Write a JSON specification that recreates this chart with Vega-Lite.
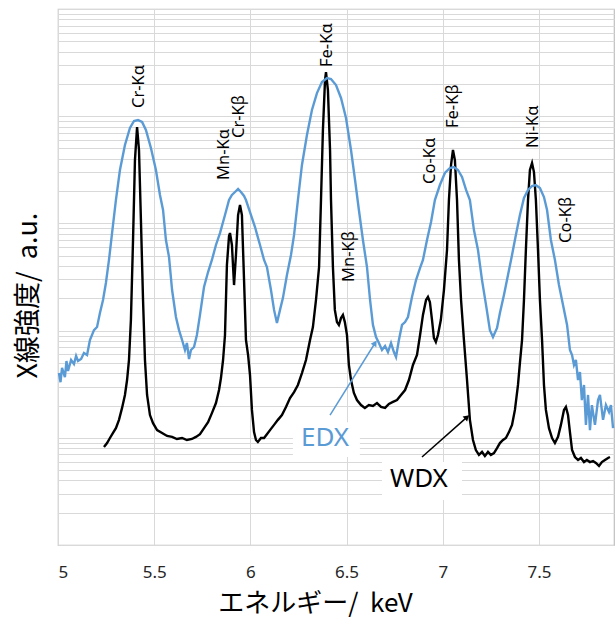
{
  "$schema": "https://vega.github.io/schema/vega-lite/v6.json",
  "width": 556,
  "height": 536,
  "autosize": {"type": "none"},
  "padding": {"left": 58, "top": 9, "right": 1, "bottom": 76},
  "background": "white",
  "config": {"view": {"stroke": "#bfbfbf", "strokeWidth": 1.2}, "font": "Noto Sans"},
  "datasets": {
    "edx": [
      {"keV":5.005,"intensity":40.2},{"keV":5.013,"intensity":33},{"keV":5.021,"intensity":44.8},{"keV":5.036,"intensity":36.9},{"keV":5.044,"intensity":52},{"keV":5.052,"intensity":42},{"keV":5.068,"intensity":53.2},{"keV":5.083,"intensity":48.8},{"keV":5.094,"intensity":58},{"keV":5.104,"intensity":52},{"keV":5.120,"intensity":54.3},{"keV":5.135,"intensity":61.8},{"keV":5.151,"intensity":59.2},{"keV":5.166,"intensity":81.7},{"keV":5.187,"intensity":101},{"keV":5.203,"intensity":108},{"keV":5.218,"intensity":146},{"keV":5.234,"intensity":193},{"keV":5.249,"intensity":278},{"keV":5.265,"intensity":456},{"keV":5.281,"intensity":813},{"keV":5.301,"intensity":1652},{"keV":5.322,"intensity":3148},{"keV":5.348,"intensity":5383},{"keV":5.374,"intensity":7762},{"keV":5.395,"intensity":9016},{"keV":5.416,"intensity":9204},{"keV":5.437,"intensity":8827},{"keV":5.457,"intensity":7430},{"keV":5.483,"intensity":5047},{"keV":5.509,"intensity":3148},{"keV":5.530,"intensity":1841},{"keV":5.546,"intensity":1334},{"keV":5.561,"intensity":700},{"keV":5.577,"intensity":486},{"keV":5.593,"intensity":239},{"keV":5.613,"intensity":134},{"keV":5.629,"intensity":101},{"keV":5.645,"intensity":81.7},{"keV":5.660,"intensity":65.9},{"keV":5.670,"intensity":76.6},{"keV":5.681,"intensity":54.3},{"keV":5.691,"intensity":65.9},{"keV":5.707,"intensity":70.3},{"keV":5.722,"intensity":91.0},{"keV":5.738,"intensity":140},{"keV":5.759,"intensity":255},{"keV":5.780,"intensity":352},{"keV":5.800,"intensity":456},{"keV":5.821,"intensity":629},{"keV":5.842,"intensity":813},{"keV":5.868,"intensity":1197},{"keV":5.889,"intensity":1652},{"keV":5.904,"intensity":1841},{"keV":5.920,"intensity":1963},{"keV":5.936,"intensity":2094},{"keV":5.951,"intensity":1963},{"keV":5.967,"intensity":1802},{"keV":5.977,"intensity":1652},{"keV":5.998,"intensity":1277},{"keV":6.024,"intensity":925},{"keV":6.050,"intensity":629},{"keV":6.071,"intensity":456},{"keV":6.086,"intensity":392},{"keV":6.107,"intensity":239},{"keV":6.123,"intensity":156},{"keV":6.138,"intensity":118},{"keV":6.154,"intensity":156},{"keV":6.169,"intensity":201},{"keV":6.190,"intensity":330},{"keV":6.211,"intensity":507},{"keV":6.227,"intensity":780},{"keV":6.247,"intensity":1652},{"keV":6.268,"intensity":3508},{"keV":6.294,"intensity":6683},{"keV":6.320,"intensity":11430},{"keV":6.346,"intensity":16440},{"keV":6.372,"intensity":20840},{"keV":6.398,"intensity":22700},{"keV":6.419,"intensity":22230},{"keV":6.445,"intensity":19540},{"keV":6.471,"intensity":14790},{"keV":6.497,"intensity":9616},{"keV":6.523,"intensity":4842},{"keV":6.544,"intensity":2541},{"keV":6.564,"intensity":1334},{"keV":6.585,"intensity":700},{"keV":6.606,"intensity":392},{"keV":6.622,"intensity":193},{"keV":6.637,"intensity":113},{"keV":6.653,"intensity":87.1},{"keV":6.668,"intensity":76.6},{"keV":6.684,"intensity":65.9},{"keV":6.700,"intensity":71.8},{"keV":6.715,"intensity":63.1},{"keV":6.731,"intensity":76.6},{"keV":6.746,"intensity":63.1},{"keV":6.757,"intensity":56.7},{"keV":6.772,"intensity":81.7},{"keV":6.788,"intensity":113},{"keV":6.804,"intensity":120},{"keV":6.819,"intensity":134},{"keV":6.840,"intensity":206},{"keV":6.861,"intensity":296},{"keV":6.882,"intensity":384},{"keV":6.897,"intensity":456},{"keV":6.918,"intensity":700},{"keV":6.939,"intensity":1030},{"keV":6.959,"intensity":1652},{"keV":6.985,"intensity":2281},{"keV":7.011,"intensity":2951},{"keV":7.037,"intensity":3289},{"keV":7.058,"intensity":3357},{"keV":7.079,"intensity":3148},{"keV":7.100,"intensity":2710},{"keV":7.121,"intensity":2051},{"keV":7.141,"intensity":1652},{"keV":7.162,"intensity":867},{"keV":7.183,"intensity":565},{"keV":7.204,"intensity":296},{"keV":7.225,"intensity":173},{"keV":7.245,"intensity":101},{"keV":7.261,"intensity":87.1},{"keV":7.282,"intensity":106},{"keV":7.297,"intensity":146},{"keV":7.318,"intensity":215},{"keV":7.339,"intensity":330},{"keV":7.360,"intensity":507},{"keV":7.380,"intensity":780},{"keV":7.401,"intensity":1197},{"keV":7.422,"intensity":1726},{"keV":7.443,"intensity":2051},{"keV":7.464,"intensity":2233},{"keV":7.484,"intensity":2281},{"keV":7.505,"intensity":2138},{"keV":7.526,"intensity":1762},{"keV":7.542,"intensity":1334},{"keV":7.562,"intensity":700},{"keV":7.583,"intensity":456},{"keV":7.604,"intensity":266},{"keV":7.625,"intensity":173},{"keV":7.646,"intensity":113},{"keV":7.661,"intensity":65.9},{"keV":7.672,"intensity":59.2},{"keV":7.682,"intensity":47.8},{"keV":7.692,"intensity":53.2},{"keV":7.703,"intensity":34.6},{"keV":7.713,"intensity":41.1},{"keV":7.723,"intensity":22.5},{"keV":7.734,"intensity":31.1},{"keV":7.744,"intensity":13.2},{"keV":7.755,"intensity":25.1},{"keV":7.765,"intensity":11.8},{"keV":7.775,"intensity":20.2},{"keV":7.791,"intensity":13.2},{"keV":7.807,"intensity":22.5},{"keV":7.817,"intensity":25.1},{"keV":7.833,"intensity":14.7},{"keV":7.848,"intensity":20.2},{"keV":7.864,"intensity":17.4},{"keV":7.874,"intensity":20.2},{"keV":7.885,"intensity":12.3}
    ],
    "wdx": [
      {"keV":5.239,"intensity":8.21},{"keV":5.255,"intensity":8.93},{"keV":5.270,"intensity":9.96},{"keV":5.286,"intensity":11.1},{"keV":5.301,"intensity":12.3},{"keV":5.317,"intensity":14.7},{"keV":5.333,"intensity":19.0},{"keV":5.348,"intensity":25.1},{"keV":5.359,"intensity":34.6},{"keV":5.369,"intensity":53.2},{"keV":5.379,"intensity":126},{"keV":5.390,"intensity":700},{"keV":5.400,"intensity":3899},{"keV":5.411,"intensity":7925},{"keV":5.421,"intensity":4842},{"keV":5.431,"intensity":1076},{"keV":5.442,"intensity":193},{"keV":5.452,"intensity":53.2},{"keV":5.463,"intensity":25.1},{"keV":5.478,"intensity":16.3},{"keV":5.494,"intensity":13.7},{"keV":5.515,"intensity":11.8},{"keV":5.541,"intensity":11.1},{"keV":5.567,"intensity":10.4},{"keV":5.593,"intensity":10.2},{"keV":5.618,"intensity":9.75},{"keV":5.645,"intensity":9.96},{"keV":5.670,"intensity":9.54},{"keV":5.696,"intensity":9.75},{"keV":5.717,"intensity":10.2},{"keV":5.738,"intensity":10.8},{"keV":5.759,"intensity":12.3},{"keV":5.780,"intensity":14.0},{"keV":5.800,"intensity":17.0},{"keV":5.821,"intensity":21.1},{"keV":5.837,"intensity":27.9},{"keV":5.847,"intensity":36.1},{"keV":5.858,"intensity":53.2},{"keV":5.868,"intensity":91.0},{"keV":5.878,"intensity":409},{"keV":5.889,"intensity":763},{"keV":5.894,"intensity":813},{"keV":5.904,"intensity":629},{"keV":5.915,"intensity":266},{"keV":5.925,"intensity":507},{"keV":5.936,"intensity":1197},{"keV":5.946,"intensity":1486},{"keV":5.956,"intensity":1197},{"keV":5.967,"intensity":296},{"keV":5.977,"intensity":81.7},{"keV":5.988,"intensity":59.2},{"keV":5.998,"intensity":38.5},{"keV":6.008,"intensity":18.2},{"keV":6.019,"intensity":11.3},{"keV":6.029,"intensity":9.54},{"keV":6.039,"intensity":9.14},{"keV":6.055,"intensity":9.96},{"keV":6.071,"intensity":9.96},{"keV":6.086,"intensity":10.8},{"keV":6.102,"intensity":11.8},{"keV":6.123,"intensity":13.2},{"keV":6.143,"intensity":14.7},{"keV":6.164,"intensity":16.3},{"keV":6.185,"intensity":19.4},{"keV":6.206,"intensity":23.5},{"keV":6.227,"intensity":26.7},{"keV":6.247,"intensity":31.1},{"keV":6.268,"intensity":40.2},{"keV":6.289,"intensity":53.2},{"keV":6.310,"intensity":81.7},{"keV":6.325,"intensity":108},{"keV":6.341,"intensity":193},{"keV":6.357,"intensity":392},{"keV":6.367,"intensity":1652},{"keV":6.377,"intensity":7430},{"keV":6.388,"intensity":21780},{"keV":6.393,"intensity":25820},{"keV":6.403,"intensity":17540},{"keV":6.414,"intensity":4842},{"keV":6.419,"intensity":1652},{"keV":6.429,"intensity":392},{"keV":6.439,"intensity":156},{"keV":6.450,"intensity":120},{"keV":6.460,"intensity":113},{"keV":6.471,"intensity":131},{"keV":6.481,"intensity":140},{"keV":6.491,"intensity":120},{"keV":6.502,"intensity":91.0},{"keV":6.512,"intensity":47.8},{"keV":6.523,"intensity":34.6},{"keV":6.538,"intensity":26.2},{"keV":6.554,"intensity":22.5},{"keV":6.575,"intensity":20.2},{"keV":6.595,"intensity":19.0},{"keV":6.616,"intensity":20.2},{"keV":6.637,"intensity":19.8},{"keV":6.658,"intensity":21.1},{"keV":6.679,"intensity":19.4},{"keV":6.700,"intensity":19.0},{"keV":6.720,"intensity":20.7},{"keV":6.741,"intensity":21.6},{"keV":6.762,"intensity":22.5},{"keV":6.783,"intensity":25.1},{"keV":6.804,"intensity":27.9},{"keV":6.824,"intensity":34.6},{"keV":6.845,"intensity":47.8},{"keV":6.866,"intensity":59.2},{"keV":6.882,"intensity":91.0},{"keV":6.897,"intensity":140},{"keV":6.913,"intensity":193},{"keV":6.923,"intensity":206},{"keV":6.933,"intensity":185},{"keV":6.944,"intensity":126},{"keV":6.954,"intensity":85.3},{"keV":6.964,"intensity":78.3},{"keV":6.975,"intensity":91.0},{"keV":6.990,"intensity":126},{"keV":7.006,"intensity":239},{"keV":7.022,"intensity":565},{"keV":7.032,"intensity":1652},{"keV":7.043,"intensity":3508},{"keV":7.053,"intensity":4842},{"keV":7.063,"intensity":3899},{"keV":7.074,"intensity":1652},{"keV":7.084,"intensity":456},{"keV":7.095,"intensity":193},{"keV":7.110,"intensity":81.7},{"keV":7.126,"intensity":34.6},{"keV":7.141,"intensity":14.7},{"keV":7.157,"intensity":9.54},{"keV":7.172,"intensity":7.69},{"keV":7.188,"intensity":6.92},{"keV":7.204,"intensity":7.38},{"keV":7.219,"intensity":6.76},{"keV":7.235,"intensity":7.38},{"keV":7.250,"intensity":6.92},{"keV":7.266,"intensity":7.21},{"keV":7.282,"intensity":8.03},{"keV":7.297,"intensity":8.93},{"keV":7.313,"intensity":9.54},{"keV":7.328,"intensity":9.96},{"keV":7.344,"intensity":11.3},{"keV":7.360,"intensity":13.2},{"keV":7.375,"intensity":18.2},{"keV":7.391,"intensity":31.1},{"keV":7.401,"intensity":49.9},{"keV":7.412,"intensity":81.7},{"keV":7.422,"intensity":193},{"keV":7.432,"intensity":565},{"keV":7.443,"intensity":1652},{"keV":7.453,"intensity":3148},{"keV":7.464,"intensity":3656},{"keV":7.474,"intensity":3013},{"keV":7.484,"intensity":1652},{"keV":7.495,"intensity":565},{"keV":7.505,"intensity":193},{"keV":7.516,"intensity":81.7},{"keV":7.526,"intensity":31.1},{"keV":7.536,"intensity":18.2},{"keV":7.552,"intensity":12.3},{"keV":7.568,"intensity":9.96},{"keV":7.583,"intensity":8.93},{"keV":7.599,"intensity":10.2},{"keV":7.614,"intensity":13.2},{"keV":7.630,"intensity":18.2},{"keV":7.640,"intensity":19.4},{"keV":7.651,"intensity":16.3},{"keV":7.661,"intensity":11.3},{"keV":7.672,"intensity":7.69},{"keV":7.687,"intensity":6.62},{"keV":7.703,"intensity":6.21},{"keV":7.718,"intensity":6.49},{"keV":7.734,"intensity":5.94},{"keV":7.749,"intensity":6.21},{"keV":7.765,"intensity":5.94},{"keV":7.781,"intensity":6.08},{"keV":7.796,"intensity":5.82},{"keV":7.812,"intensity":5.46},{"keV":7.827,"intensity":5.94},{"keV":7.843,"intensity":6.21},{"keV":7.859,"intensity":6.49},{"keV":7.869,"intensity":6.62}
    ],
    "peaks": [
      {"label":"Cr-Kα","keV":5.421,"intensity":11940},
      {"label":"Mn-Kα","keV":5.863,"intensity":2541},
      {"label":"Cr-Kβ","keV":5.941,"intensity":6266},
      {"label":"Fe-Kα","keV":6.398,"intensity":28770},
      {"label":"Mn-Kβ","keV":6.512,"intensity":284},
      {"label":"Co-Kα","keV":6.933,"intensity":2333},
      {"label":"Fe-Kβ","keV":7.053,"intensity":7762},
      {"label":"Ni-Kα","keV":7.469,"intensity":5047},
      {"label":"Co-Kβ","keV":7.640,"intensity":656}
    ],
    "boxes": [
      {"name":"EDX","keV":6.221,"keV2":6.569,"intensity":6.62,"intensity2":14.0},
      {"name":"WDX","keV":6.684,"keV2":7.100,"intensity":2.63,"intensity2":5.94}
    ],
    "arrows": [
      {"name":"EDX","keV":6.414,"intensity":16.3,"keV2":6.648,"intensity2":76.6},
      {"name":"WDX","keV":6.892,"intensity":6.62,"keV2":7.126,"intensity2":15.6}
    ],
    "series": [
      {"name":"EDX","keV":6.388,"intensity":9.96},
      {"name":"WDX","keV":6.876,"intensity":4.13}
    ]
  },
  "encoding": {
    "x": {
      "field": "keV", "type": "quantitative",
      "scale": {"domain": [5, 7.89], "nice": false, "zero": false},
      "axis": {
        "values": [5, 5.5, 6, 6.5, 7, 7.5], "format": "~g",
        "grid": true, "gridColor": "#d9d9d9", "domain": false, "ticks": false,
        "labelFontSize": 17, "labelColor": "#262626", "labelPadding": 19, "labelFont": "Noto Sans",
        "title": "エネルギー/\u00a0\u00a0keV", "titleFont": "Noto Sans CJK JP", "titleFontSize": 26,
        "titleFontWeight": "normal", "titleColor": "#000000",
        "titleX": 257, "titleY": 58, "titleAlign": "center", "titleBaseline": "middle"
      }
    },
    "y": {
      "field": "intensity", "type": "quantitative",
      "scale": {"type": "log", "domain": [1, 100000], "nice": false},
      "axis": {
        "values": [1,2,3,4,5,6,7,8,9,10,20,30,40,50,60,70,80,90,100,200,300,400,500,600,700,800,900,1000,2000,3000,4000,5000,6000,7000,8000,9000,10000,20000,30000,40000,50000,60000,70000,80000,90000,100000],
        "labels": false, "ticks": false, "domain": false,
        "grid": true, "gridColor": "#d9d9d9",
        "title": "X線強度/\u00a0\u00a0a.u.", "titleFont": "Noto Sans CJK JP", "titleFontSize": 27,
        "titleFontWeight": "normal", "titleColor": "#000000", "titleAngle": 270,
        "titleX": -30, "titleY": 286, "titleAlign": "center", "titleBaseline": "middle"
      }
    }
  },
  "layer": [
    {
      "data": {"name": "boxes"},
      "mark": {"type": "rect", "fill": "white"},
      "encoding": {"x2": {"field": "keV2"}, "y2": {"field": "intensity2"}}
    },
    {
      "data": {"name": "wdx"},
      "mark": {"type": "line", "color": "#000000", "strokeWidth": 2.4, "interpolate": "linear"}
    },
    {
      "data": {"name": "edx"},
      "mark": {"type": "line", "color": "#5B9BD5", "strokeWidth": 2.4, "interpolate": "linear"}
    },
    {
      "data": {"name": "arrows"},
      "mark": {"type": "rule", "strokeWidth": 1.5},
      "encoding": {
        "x2": {"field": "keV2"}, "y2": {"field": "intensity2"},
        "color": {"field": "name", "type": "nominal", "scale": {"domain": ["EDX", "WDX"], "range": ["#5B9BD5", "#000000"]}, "legend": null}
      }
    },
    {
      "data": {"name": "arrows"},
      "transform": [{"filter": "datum.name === 'EDX'"}],
      "mark": {"type": "point", "shape": "triangle-up", "filled": true, "size": 45, "angle": 32, "color": "#5B9BD5", "opacity": 1},
      "encoding": {"x": {"field": "keV2", "type": "quantitative"}, "y": {"field": "intensity2", "type": "quantitative"}}
    },
    {
      "data": {"name": "arrows"},
      "transform": [{"filter": "datum.name === 'WDX'"}],
      "mark": {"type": "point", "shape": "triangle-up", "filled": true, "size": 45, "angle": 48, "color": "#000000", "opacity": 1},
      "encoding": {"x": {"field": "keV2", "type": "quantitative"}, "y": {"field": "intensity2", "type": "quantitative"}}
    },
    {
      "data": {"name": "series"},
      "mark": {"type": "text", "fontSize": 26, "font": "Noto Sans", "align": "center", "baseline": "middle"},
      "encoding": {
        "text": {"field": "name"},
        "color": {"field": "name", "type": "nominal", "scale": {"domain": ["EDX", "WDX"], "range": ["#5B9BD5", "#000000"]}, "legend": null}
      }
    },
    {
      "data": {"name": "peaks"},
      "mark": {"type": "text", "fontSize": 16.5, "font": "Noto Sans", "angle": 270, "align": "left", "baseline": "middle", "color": "#000000"},
      "encoding": {"text": {"field": "label"}}
    }
  ]
}
